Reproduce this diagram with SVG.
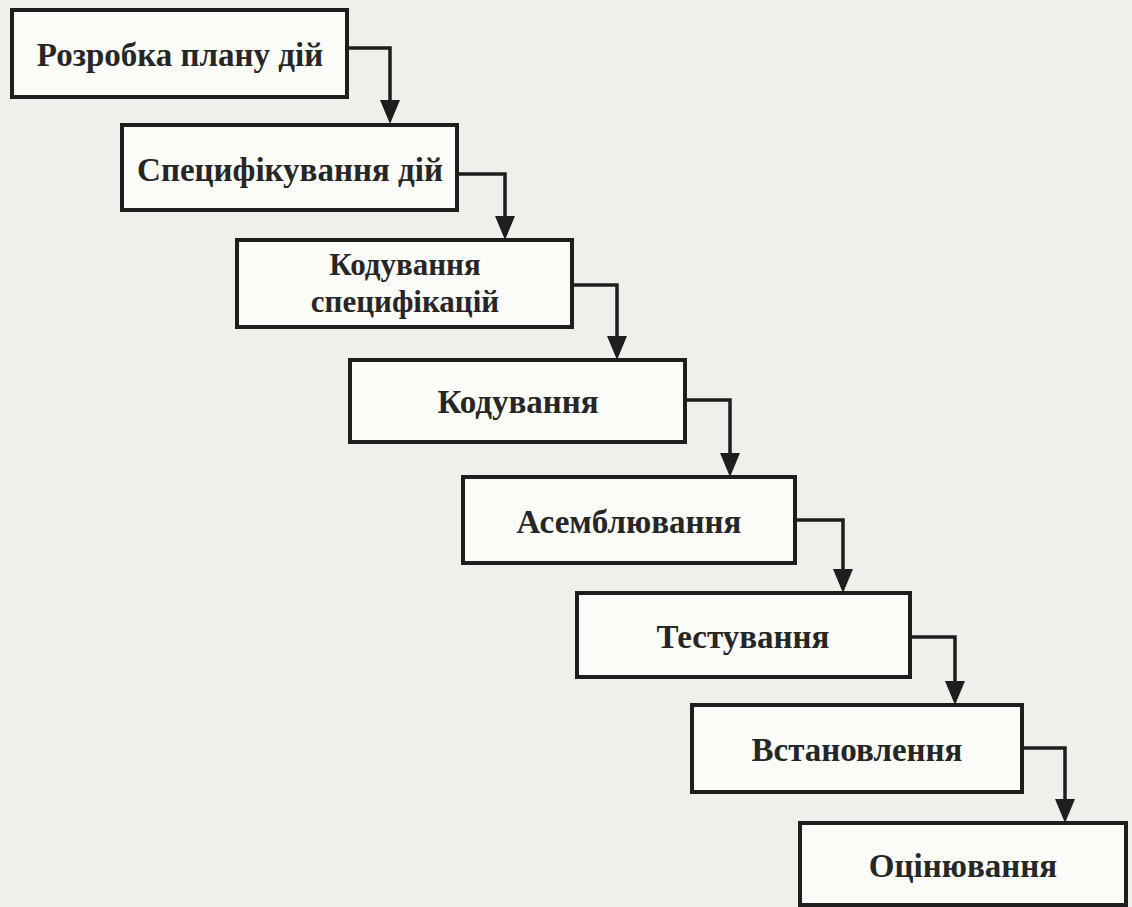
<svg xmlns="http://www.w3.org/2000/svg" width="1132" height="907" viewBox="0 0 1132 907">
<defs>
<style>
.box{fill:#fbfbf8;stroke:#1e1e1e;stroke-width:4}
.lbl{font-family:"Liberation Serif","DejaVu Serif",serif;font-size:33px;font-weight:bold;fill:#262626;text-anchor:middle;dominant-baseline:central}
.sm{font-size:31px}
.con{fill:none;stroke:#1e1e1e;stroke-width:3.5}
.ah{fill:#1e1e1e}
</style>
</defs>
<rect width="1132" height="907" fill="#efefeb"/>
<g id="connectors">
<path class="con" d="M347,48 H390 V104"/>
<path class="ah" d="M380,100 L400,100 L390,124 z"/>
<path class="con" d="M457,174 H505 V218"/>
<path class="ah" d="M495,216 L515,216 L505,240 z"/>
<path class="con" d="M572,285 H617 V338"/>
<path class="ah" d="M607,336 L627,336 L617,360 z"/>
<path class="con" d="M685,400 H730 V455"/>
<path class="ah" d="M720,453 L740,453 L730,477 z"/>
<path class="con" d="M795,520 H843 V571"/>
<path class="ah" d="M833,569 L853,569 L843,593 z"/>
<path class="con" d="M910,637 H955 V683"/>
<path class="ah" d="M945,681 L965,681 L955,705 z"/>
<path class="con" d="M1022,748 H1065 V801"/>
<path class="ah" d="M1055,799 L1075,799 L1065,823 z"/>
</g>
<g id="n1"><rect class="box" x="12" y="10" width="335" height="87"/><text class="lbl" x="180" y="55">Розробка плану дій</text></g>
<g id="n2"><rect class="box" x="122" y="125" width="335" height="85"/><text class="lbl" x="290" y="170">Специфікування дій</text></g>
<g id="n3"><rect class="box" x="237" y="240" width="335" height="87"/><text class="lbl sm" x="405" y="264">Кодування</text><text class="lbl sm" x="405" y="301">специфікацій</text></g>
<g id="n4"><rect class="box" x="350" y="360" width="335" height="82"/><text class="lbl" x="518" y="402">Кодування</text></g>
<g id="n5"><rect class="box" x="463" y="477" width="332" height="86"/><text class="lbl" x="629" y="522">Асемблювання</text></g>
<g id="n6"><rect class="box" x="577" y="593" width="333" height="84"/><text class="lbl" x="743" y="637">Тестування</text></g>
<g id="n7"><rect class="box" x="692" y="705" width="330" height="87"/><text class="lbl" x="857" y="750">Встановлення</text></g>
<g id="n8"><rect class="box" x="800" y="823" width="326" height="82"/><text class="lbl" x="963" y="866">Оцінювання</text></g>
</svg>
